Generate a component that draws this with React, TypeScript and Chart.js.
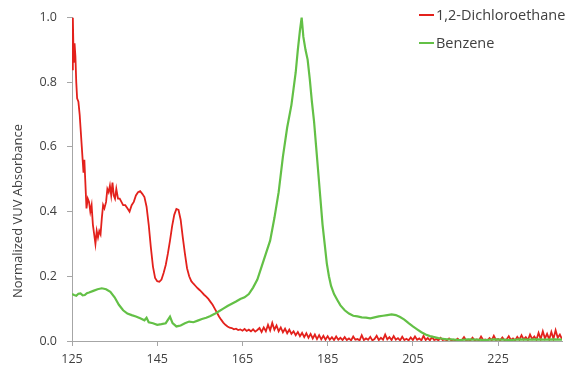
import React, { useEffect, useRef } from "react";
import { Chart, registerables } from "chart.js";

Chart.register(...registerables);

// Wavelength (nm) vs normalized absorbance
const dichloroethane: [number, number][] = [
  [125.0, 0.84], [125.2, 1.0], [125.4, 0.86], [125.6, 0.92], [125.8, 0.88], [126.0, 0.8], [126.2, 0.75],
  [126.5, 0.74], [126.8, 0.7], [127.0, 0.66], [127.3, 0.6], [127.5, 0.56], [127.7, 0.52], [127.9, 0.56],
  [128.1, 0.5], [128.4, 0.41], [128.7, 0.44], [129.0, 0.43], [129.3, 0.4], [129.6, 0.42], [129.9, 0.36],
  [130.2, 0.33], [130.5, 0.3], [130.8, 0.34], [131.1, 0.32], [131.4, 0.34], [131.7, 0.33], [132.0, 0.38],
  [132.3, 0.42], [132.6, 0.41], [133.0, 0.43], [133.3, 0.47], [133.6, 0.46], [133.9, 0.48], [134.2, 0.45],
  [134.5, 0.49], [134.8, 0.45], [135.1, 0.44], [135.4, 0.47], [135.8, 0.44], [136.2, 0.44], [136.6, 0.43],
  [137.0, 0.42], [137.5, 0.42], [138.0, 0.41], [138.5, 0.4], [139.0, 0.42], [139.5, 0.43], [140.0, 0.45],
  [140.5, 0.46], [141.0, 0.463], [141.5, 0.455], [142.0, 0.445], [142.5, 0.415], [143.0, 0.36], [143.5, 0.29],
  [144.0, 0.23], [144.5, 0.195], [145.0, 0.185], [145.5, 0.183], [146.0, 0.19], [146.5, 0.21], [147.0, 0.235],
  [147.5, 0.27], [148.0, 0.31], [148.5, 0.355], [149.0, 0.39], [149.5, 0.408], [150.0, 0.405], [150.5, 0.375],
  [151.0, 0.32], [151.5, 0.27], [152.0, 0.225], [152.5, 0.2], [153.0, 0.185], [153.5, 0.177], [154.0, 0.17],
  [154.5, 0.163], [155.0, 0.157], [155.5, 0.15], [156.0, 0.143], [156.5, 0.137], [157.0, 0.13], [157.5, 0.121],
  [158.0, 0.112], [158.5, 0.1], [159.0, 0.088], [159.5, 0.076], [160.0, 0.066], [160.5, 0.057], [161.0, 0.05],
  [161.5, 0.045], [162.0, 0.041], [162.5, 0.04], [163.0, 0.036], [163.5, 0.038], [164.0, 0.034], [164.5, 0.036],
  [165.0, 0.032], [165.5, 0.037], [166.0, 0.031], [166.5, 0.035], [167.0, 0.03], [167.5, 0.036], [168.0, 0.029],
  [168.5, 0.034], [169.0, 0.04], [169.5, 0.028], [170.0, 0.042], [170.5, 0.03], [171.0, 0.05], [171.5, 0.033],
  [172.0, 0.056], [172.5, 0.035], [173.0, 0.048], [173.5, 0.03], [174.0, 0.042], [174.5, 0.027], [175.0, 0.038],
  [175.5, 0.024], [176.0, 0.035], [176.5, 0.022], [177.0, 0.03], [177.5, 0.018], [178.0, 0.028], [178.5, 0.015],
  [179.0, 0.025], [179.5, 0.012], [180.0, 0.024], [180.5, 0.01], [181.0, 0.022], [181.5, 0.008], [182.0, 0.02],
  [182.5, 0.006], [183.0, 0.018], [183.5, 0.005], [184.0, 0.016], [184.5, 0.004], [185.0, 0.015], [185.5, 0.004],
  [186.0, 0.012], [186.5, 0.003], [187.0, 0.014], [187.5, 0.004], [188.0, 0.01], [188.5, 0.003], [189.0, 0.012],
  [189.5, 0.003], [190.0, 0.008], [190.5, 0.002], [191.0, 0.014], [191.5, 0.004], [192.0, 0.006], [192.5, 0.002],
  [193.0, 0.018], [193.5, 0.003], [194.0, 0.008], [194.5, 0.004], [195.0, 0.013], [195.5, 0.002], [196.0, 0.006],
  [196.5, 0.016], [197.0, 0.003], [197.5, 0.01], [198.0, 0.004], [198.5, 0.02], [199.0, 0.005], [199.5, 0.012],
  [200.0, 0.003], [200.5, 0.015], [201.0, 0.004], [201.5, 0.009], [202.0, 0.002], [202.5, 0.013], [203.0, 0.003],
  [203.5, 0.007], [204.0, 0.002], [204.5, 0.011], [205.0, 0.003], [205.5, 0.014], [206.0, 0.004], [206.5, 0.008],
  [207.0, 0.002], [207.5, 0.016], [208.0, 0.003], [208.5, 0.009], [209.0, 0.002], [209.5, 0.012], [210.0, 0.003],
  [210.5, 0.006], [211.0, 0.002], [211.5, 0.01], [212.0, 0.003], [212.5, 0.005], [213.0, 0.002], [213.5, 0.008],
  [214.0, 0.002], [214.5, 0.004], [215.0, 0.002], [215.5, 0.007], [216.0, 0.002], [216.5, 0.003], [217.0, 0.012],
  [217.5, 0.002], [218.0, 0.004], [218.5, 0.002], [219.0, 0.01], [219.5, 0.002], [220.0, 0.005], [220.5, 0.002],
  [221.0, 0.014], [221.5, 0.003], [222.0, 0.005], [222.5, 0.002], [223.0, 0.009], [223.5, 0.002], [224.0, 0.016],
  [224.5, 0.003], [225.0, 0.006], [225.5, 0.002], [226.0, 0.011], [226.5, 0.003], [227.0, 0.005], [227.5, 0.015],
  [228.0, 0.003], [228.5, 0.008], [229.0, 0.002], [229.5, 0.013], [230.0, 0.004], [230.5, 0.018], [231.0, 0.005],
  [231.5, 0.012], [232.0, 0.003], [232.5, 0.02], [233.0, 0.006], [233.5, 0.014], [234.0, 0.004], [234.5, 0.025],
  [235.0, 0.006], [235.5, 0.03], [236.0, 0.008], [236.5, 0.022], [237.0, 0.005], [237.5, 0.028], [238.0, 0.007],
  [238.5, 0.033], [239.0, 0.01], [239.5, 0.02], [240.0, 0.006],
];

const benzene: [number, number][] = [
  [125, 0.145], [125.5, 0.142], [126, 0.14], [126.5, 0.146], [127, 0.147], [127.5, 0.141], [128, 0.142],
  [128.5, 0.148], [129, 0.15], [130, 0.155], [131, 0.16], [132, 0.163], [133, 0.16], [134, 0.152], [135, 0.135],
  [136, 0.112], [137, 0.095], [138, 0.085], [139, 0.08], [140, 0.076], [141, 0.07], [142, 0.064], [142.5, 0.072],
  [143, 0.058], [144, 0.055], [145, 0.05], [146, 0.052], [147, 0.055], [148, 0.075], [148.6, 0.055],
  [149.5, 0.045], [150.5, 0.048], [151.5, 0.055], [152.5, 0.06], [153.5, 0.058], [154.5, 0.063], [155.5, 0.068],
  [156.5, 0.072], [157.5, 0.077], [158.5, 0.084], [159.5, 0.092], [160.5, 0.1], [161.5, 0.108], [162.5, 0.115],
  [163.5, 0.122], [164.5, 0.13], [165.5, 0.135], [166.5, 0.145], [167.5, 0.165], [168.5, 0.19], [169.5, 0.23],
  [170.5, 0.27], [171.5, 0.31], [172.5, 0.38], [173.5, 0.46], [174.5, 0.57], [175.5, 0.66], [176.5, 0.73],
  [177.0, 0.78], [177.5, 0.83], [178.0, 0.9], [178.5, 0.96], [178.9, 1.0], [179.3, 0.94], [179.8, 0.9],
  [180.3, 0.87], [180.8, 0.81], [181.3, 0.74], [181.8, 0.68], [182.3, 0.6], [182.8, 0.52], [183.3, 0.44],
  [183.8, 0.36], [184.3, 0.3], [184.8, 0.24], [185.3, 0.2], [185.8, 0.17], [186.5, 0.145], [187.3, 0.126],
  [188, 0.11], [189, 0.095], [190, 0.085], [191, 0.078], [192, 0.076], [193, 0.073], [194, 0.072], [195, 0.07],
  [196, 0.073], [197, 0.076], [198, 0.078], [199, 0.08], [200, 0.082], [201, 0.08], [202, 0.074], [203, 0.066],
  [204, 0.055], [205, 0.045], [206, 0.036], [207, 0.027], [208, 0.02], [209, 0.015], [210, 0.012], [211, 0.009],
  [212, 0.007], [213, 0.005], [214, 0.005], [216, 0.003], [218, 0.005], [220, 0.004], [222, 0.003], [224, 0.005],
  [226, 0.004], [228, 0.003], [230, 0.005], [232, 0.004], [234, 0.005], [236, 0.004], [238, 0.005], [240, 0.004],
];

const seriesNames = ["1,2-Dichloroethane", "Benzene"];
const seriesColors = ["#e3211c", "#63c046"];
const xTickValues = [125, 145, 165, 185, 205, 225];
const xMin = 125;
const xMax = 240;
const yTitle = "Normalized VUV Absorbance";

const FONT = "'Open Sans', 'Liberation Sans', sans-serif";
const AXIS_GRAY = "#a6a6a6";
const TEXT_GRAY = "#404040";

const legendPlugin = {
  id: "manualLegend",
  afterDraw(chart: any) {
    const ctx = chart.ctx;
    ctx.save();
    ctx.font = `14.5px ${FONT}`;
    ctx.textBaseline = "middle";
    ctx.textAlign = "left";
    chart.data.datasets.forEach((ds: any, i: number) => {
      const y = 15 + i * 28;
      ctx.strokeStyle = ds.borderColor;
      ctx.lineWidth = 2;
      ctx.beginPath();
      ctx.moveTo(419, y);
      ctx.lineTo(434, y);
      ctx.stroke();
      ctx.fillStyle = TEXT_GRAY;
      ctx.fillText(ds.label, 436, y + 1);
    });
    ctx.restore();
  },
};

const yTitlePlugin = {
  id: "yTitle",
  afterDraw(chart: any) {
    const ctx = chart.ctx;
    ctx.save();
    ctx.translate(18, 211);
    ctx.rotate(-Math.PI / 2);
    ctx.font = `13px ${FONT}`;
    ctx.fillStyle = TEXT_GRAY;
    ctx.textAlign = "center";
    ctx.textBaseline = "middle";
    ctx.fillText(yTitle, 0, 0);
    ctx.restore();
  },
};

export default function App() {
  const ref = useRef<HTMLCanvasElement>(null);
  useEffect(() => {
    document.body.style.margin = "0";
    const toPts = (arr: [number, number][]) => arr.map(([x, y]) => ({ x, y }));
    const chart = new Chart(ref.current!, {
      type: "line",
      data: {
        datasets: [
          {
            label: seriesNames[0],
            data: toPts(dichloroethane),
            borderColor: seriesColors[0],
            borderWidth: 1.8,
            pointRadius: 0,
            tension: 0,
            order: 2,
          },
          {
            label: seriesNames[1],
            data: toPts(benzene),
            borderColor: seriesColors[1],
            borderWidth: 2.2,
            pointRadius: 0,
            tension: 0,
            order: 1,
          },
        ],
      },
      options: {
        animation: false,
        responsive: false,
        layout: { padding: { top: 16, right: 23, left: 0, bottom: 0 } },
        plugins: { legend: { display: false }, tooltip: { enabled: false } },
        scales: {
          x: {
            type: "linear",
            min: xMin,
            max: xMax,
            afterBuildTicks: (scale: any) => {
              scale.ticks = xTickValues.map((v) => ({ value: v }));
            },
            afterFit: (scale: any) => {
              scale.height = 29;
            },
            ticks: {
              font: { family: FONT, size: 12.5 },
              color: TEXT_GRAY,
              padding: 6,
              maxRotation: 0,
              callback: (v: any) => String(v),
            },
            grid: { display: true, drawOnChartArea: false, drawTicks: true, tickLength: 5, color: AXIS_GRAY },
            border: { display: true, color: AXIS_GRAY, width: 1 },
          },
          y: {
            min: 0,
            max: 1,
            afterFit: (scale: any) => {
              scale.width = 72;
            },
            ticks: {
              stepSize: 0.2,
              font: { family: FONT, size: 12.5 },
              color: TEXT_GRAY,
              padding: 10,
              callback: (v: any) => Number(v).toFixed(1),
            },
            grid: { display: true, drawOnChartArea: false, drawTicks: true, tickLength: 5, color: AXIS_GRAY },
            border: { display: true, color: AXIS_GRAY, width: 1 },
          },
        },
      },
      plugins: [legendPlugin, yTitlePlugin],
    } as any);
    return () => chart.destroy();
  }, []);
  return (
    <div style={{ width: 585, height: 370, background: "#fff" }}>
      <canvas ref={ref} width={585} height={370} style={{ display: "block" }} />
    </div>
  );
}
